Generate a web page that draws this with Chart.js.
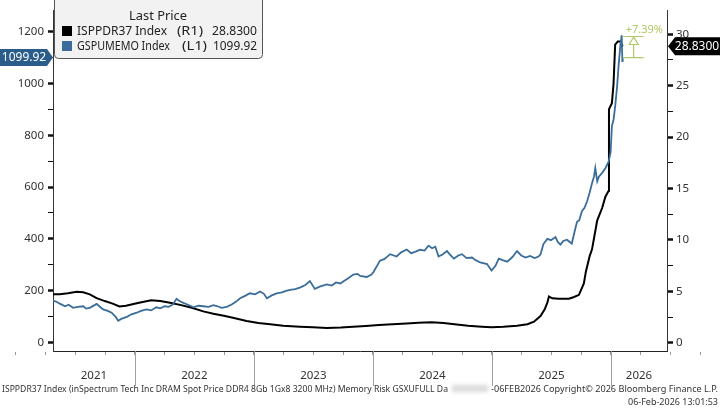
<!DOCTYPE html>
<html>
<head>
<meta charset="utf-8">
<script src="https://cdn.jsdelivr.net/npm/chart.js@4.4.1/dist/chart.umd.min.js"></script>
<style>
  html, body { margin: 0; padding: 0; background: #fff; }
</style>
</head>
<body>
<canvas id="graph" width="720" height="409"></canvas>
<script>
// GSPUMEMO Index (left axis)
var memoDates = [
  "2021-04-24","2021-05-05","2021-05-16","2021-06-01","2021-06-12","2021-06-26","2021-07-10","2021-07-27",
  "2021-08-05","2021-08-16","2021-09-06","2021-09-16","2021-09-26","2021-10-10","2021-10-22","2021-11-04",
  "2021-11-11","2021-11-22","2021-12-08","2021-12-20","2022-01-07","2022-01-20","2022-02-06","2022-02-20",
  "2022-03-08","2022-03-20","2022-04-03","2022-04-15","2022-04-28","2022-05-09","2022-05-18","2022-05-30",
  "2022-06-15","2022-06-30","2022-07-15","2022-07-30","2022-08-15","2022-08-30","2022-09-12","2022-09-24",
  "2022-10-10","2022-10-25","2022-11-08","2022-11-20","2022-12-05","2022-12-20","2023-01-05","2023-01-20",
  "2023-02-01","2023-02-10","2023-02-25","2023-03-12","2023-03-28","2023-04-10","2023-04-22","2023-05-08",
  "2023-05-22","2023-06-08","2023-06-22","2023-07-07","2023-07-22","2023-08-13","2023-08-28","2023-09-10",
  "2023-09-23","2023-10-08","2023-10-20","2023-11-02","2023-11-15","2023-11-23","2023-12-13","2023-12-28",
  "2024-01-03","2024-01-23","2024-02-05","2024-02-23","2024-03-14","2024-03-28","2024-04-14","2024-04-28",
  "2024-05-10","2024-05-25","2024-06-08","2024-06-20","2024-07-01","2024-07-11","2024-07-21","2024-08-02",
  "2024-08-16","2024-08-26","2024-09-06","2024-09-20","2024-10-01","2024-10-15","2024-11-01","2024-11-12",
  "2024-11-26","2024-12-17","2024-12-31","2025-01-12","2025-01-22","2025-02-03","2025-02-17","2025-03-05",
  "2025-03-19","2025-04-01","2025-04-14","2025-04-28","2025-05-12","2025-05-24","2025-05-30","2025-06-08",
  "2025-06-20","2025-07-01","2025-07-15","2025-07-22","2025-07-30","2025-08-08","2025-08-19","2025-09-03",
  "2025-09-10","2025-09-19","2025-09-26","2025-10-04","2025-10-12","2025-10-20","2025-10-28","2025-11-04",
  "2025-11-10","2025-11-14","2025-11-20","2025-11-25","2025-12-05","2025-12-15","2025-12-25","2025-12-31",
  "2026-01-04","2026-01-09","2026-01-14","2026-01-20","2026-01-24","2026-01-30","2026-02-03","2026-02-05",
  "2026-02-06"
];
var memoValues = [
  162,158,150,140,146,134,138,140,
  131,134,149,138,128,122,115,98,
  84,92,99,108,115,122,128,124,
  136,132,140,138,147,169,160,153,
  145,136,142,140,138,144,140,134,
  138,147,158,171,180,190,186,197,
  188,171,182,190,194,199,203,206,
  212,222,237,207,216,224,220,232,
  228,240,250,262,265,257,253,262,
  272,316,322,341,332,348,359,345,
  350,358,355,374,364,370,332,340,
  353,338,324,336,341,326,328,318,
  309,303,278,296,324,318,312,330,
  353,336,328,334,326,332,340,380,
  400,395,407,388,378,392,397,382,
  420,466,472,507,520,545,580,615,
  640,673,622,640,655,673,698,735,
  836,860,911,990,1061,1149,1186,1086,
  1099.92
];

// ISPPDR37 Index, DRAM spot price (right axis)
var dramDates = [
  "2021-04-24","2021-05-16","2021-06-10","2021-07-07","2021-07-27","2021-08-16","2021-09-06","2021-10-01",
  "2021-10-25","2021-11-15","2021-12-05","2021-12-28","2022-01-25","2022-02-20","2022-03-20","2022-04-15",
  "2022-05-20","2022-06-25","2022-07-30","2022-08-30","2022-10-01","2022-11-01","2022-12-10","2023-01-15",
  "2023-02-20","2023-04-01","2023-05-22","2023-07-01","2023-08-13","2023-09-25","2023-11-01","2023-12-10",
  "2024-01-20","2024-03-01","2024-04-14","2024-05-20","2024-06-30","2024-08-05","2024-09-15","2024-10-20",
  "2024-12-01","2024-12-31","2025-02-05","2025-03-19","2025-04-20","2025-05-10","2025-05-30","2025-06-12",
  "2025-06-20","2025-06-25","2025-07-05","2025-07-25","2025-08-25","2025-09-10","2025-09-25","2025-10-10",
  "2025-10-16","2025-10-28","2025-11-04","2025-11-12","2025-11-20","2025-12-05","2025-12-15","2025-12-25",
  "2025-12-26","2026-01-04","2026-01-09","2026-01-14","2026-01-22","2026-01-30","2026-02-06"
];
var dramValues = [
  4.72,4.72,4.80,4.95,4.91,4.70,4.34,4.05,
  3.80,3.52,3.60,3.77,3.95,4.12,4.05,3.92,
  3.68,3.40,3.05,2.82,2.62,2.40,2.12,1.92,
  1.80,1.66,1.56,1.50,1.44,1.48,1.55,1.62,
  1.72,1.80,1.88,1.94,1.98,1.92,1.78,1.66,
  1.56,1.50,1.56,1.66,1.80,2.05,2.60,3.24,
  3.90,4.50,4.32,4.28,4.28,4.45,4.66,5.76,
  6.87,8.45,9.08,10.5,11.9,13.1,14.2,14.77,
  22.7,23.3,25.2,29.0,29.3,29.3,28.83
];

var years = [2021, 2022, 2023, 2024, 2025, 2026];
var leftTicks = [0,100,200,300,400,500,600,700,800,900,1000,1100,1200];
var rightTicks = [0,2.5,5,7.5,10,12.5,15,17.5,20,22.5,25,27.5,30];
var changePct = 7.39;

var footerLeft = "ISPPDR37 Index (inSpectrum Tech Inc DRAM Spot Price DDR4 8Gb 1Gx8 3200 MHz) Memory Risk GSXUFULL Da";
var footerRight = "-06FEB2026 Copyright\u00A9 2026 Bloomberg Finance L.P.";
var footerStamp = "06-Feb-2026 13:01:53";

function toYear(s) {
  var p = s.split("-").map(Number);
  var start = Date.UTC(p[0], 0, 1), end = Date.UTC(p[0] + 1, 0, 1);
  return p[0] + (Date.UTC(p[0], p[1] - 1, p[2]) - start) / (end - start);
}

var quarterTicks = [];
years.forEach(function (y) {
  [0, 0.25, 0.5, 0.75].forEach(function (q) { quarterTicks.push(y + q); });
});

var FONT = "'Noto Sans', 'DejaVu Sans', sans-serif";
var BLUE = "#3a6d99";

// draw text squeezed or stretched to a given width
function drawFit(ctx, text, x, y, width, size) {
  ctx.font = size + "px " + FONT;
  var w = ctx.measureText(text).width;
  ctx.save();
  ctx.translate(x, y);
  ctx.scale(width / w, 1);
  ctx.textAlign = "left";
  ctx.fillText(text, 0, 0);
  ctx.restore();
}

var bloombergPlugin = {
  id: "bloomberg",
  afterDraw: function (chart) {
    var ctx = chart.ctx, xs = chart.scales.x, yl = chart.scales.y, yr = chart.scales.y1;
    var area = chart.chartArea;
    ctx.save();

    // year separators and labels
    ctx.strokeStyle = "#a0a0a0";
    ctx.lineWidth = 1;
    ctx.fillStyle = "#333";
    ctx.font = "11.5px " + FONT;
    ctx.textAlign = "center";
    ctx.textBaseline = "middle";
    years.forEach(function (y) {
      var px = xs.getPixelForValue(y);
      if (px > area.left && px < area.right) {
        ctx.beginPath();
        ctx.moveTo(Math.round(px) + 0.5, area.bottom);
        ctx.lineTo(Math.round(px) + 0.5, 386);
        ctx.stroke();
      }
      var a = Math.max(y, xs.min), b = Math.min(y + 1, xs.max);
      if (b > a) {
        var cx = (xs.getPixelForValue(a) + xs.getPixelForValue(b)) / 2;
        ctx.fillText(String(y), cx, 376);
      }
    });

    // footer
    ctx.textBaseline = "alphabetic";
    ctx.fillStyle = "#333";
    drawFit(ctx, footerLeft, 2, 392, 446, 9);
    drawFit(ctx, footerRight, 491, 392, 227, 9);
    ctx.save();
    ctx.filter = "blur(2px)";
    ctx.fillStyle = "rgba(150,150,150,0.35)";
    ctx.fillRect(452, 385, 36, 7);
    ctx.restore();
    ctx.fillStyle = "#333";
    ctx.font = "9px " + FONT;
    ctx.textAlign = "right";
    ctx.fillText(footerStamp, 718, 405);

    // last value badges
    var lastMemo = memoValues[memoValues.length - 1];
    var lastDram = dramValues[dramValues.length - 1];
    var by = yl.getPixelForValue(lastMemo);
    ctx.fillStyle = "#2b5d8c";
    ctx.beginPath();
    ctx.moveTo(0, by - 8.5);
    ctx.lineTo(47, by - 8.5);
    ctx.lineTo(53, by);
    ctx.lineTo(47, by + 8.5);
    ctx.lineTo(0, by + 8.5);
    ctx.closePath();
    ctx.fill();
    ctx.fillStyle = "#fff";
    ctx.font = "12px " + FONT;
    ctx.textAlign = "center";
    ctx.textBaseline = "middle";
    ctx.fillText(lastMemo.toFixed(2), 24, by + 0.5);

    var ry = yr.getPixelForValue(lastDram);
    ctx.fillStyle = "#000";
    ctx.beginPath();
    ctx.moveTo(668, ry);
    ctx.lineTo(675, ry - 9);
    ctx.lineTo(720, ry - 9);
    ctx.lineTo(720, ry + 9);
    ctx.lineTo(675, ry + 9);
    ctx.closePath();
    ctx.fill();
    ctx.fillStyle = "#fff";
    ctx.fillText(lastDram.toFixed(4), 697, ry + 0.5);

    // +7.39% measurement
    var endX = xs.getPixelForValue(toYear(memoDates[memoDates.length - 1]));
    var yBase = yl.getPixelForValue(lastMemo);
    var yTop = yl.getPixelForValue(lastMemo * (1 + changePct / 100));
    var ax = endX + 11;
    ctx.strokeStyle = "#b2c86a";
    ctx.fillStyle = "#b2c86a";
    ctx.lineWidth = 1.2;
    ctx.beginPath();
    ctx.moveTo(endX, yTop); ctx.lineTo(endX + 21, yTop);
    ctx.moveTo(endX, yBase); ctx.lineTo(endX + 21, yBase);
    ctx.moveTo(ax, yTop + 8); ctx.lineTo(ax, yBase);
    ctx.stroke();
    ctx.beginPath();
    ctx.moveTo(ax, yTop + 0.5);
    ctx.lineTo(ax - 4.5, yTop + 8);
    ctx.lineTo(ax + 4.5, yTop + 8);
    ctx.closePath();
    ctx.stroke();
    ctx.font = "11px " + FONT;
    ctx.textAlign = "left";
    ctx.fillText("+" + changePct.toFixed(2) + "%", endX + 3, yTop - 7);

    // legend box
    ctx.fillStyle = "#f2f2f2";
    ctx.strokeStyle = "#555";
    ctx.lineWidth = 1;
    ctx.beginPath();
    ctx.roundRect(54.5, -4.5, 208, 63, 4);
    ctx.fill();
    ctx.stroke();
    ctx.fillStyle = "#222";
    ctx.textBaseline = "middle";
    drawFit(ctx, "Last Price", 129, 16, 58, 12.5);
    ctx.fillStyle = "#000";
    ctx.fillRect(62, 26, 10, 10);
    ctx.fillStyle = BLUE;
    ctx.fillRect(62, 41, 10, 10);
    ctx.fillStyle = "#222";
    drawFit(ctx, "ISPPDR37 Index", 77, 31.5, 90, 12.5);
    drawFit(ctx, "(R1)", 177, 31.5, 26, 12.5);
    drawFit(ctx, lastDram.toFixed(4), 212, 31.5, 45, 12.5);
    drawFit(ctx, "GSPUMEMO Index", 77, 46.5, 93, 12.5);
    drawFit(ctx, "(L1)", 182, 46.5, 25, 12.5);
    drawFit(ctx, lastMemo.toFixed(2), 213, 46.5, 44, 12.5);

    ctx.restore();
  }
};

var data = {
  datasets: [{
    label: "GSPUMEMO Index",
    data: memoDates.map(function (d, i) { return { x: toYear(d), y: memoValues[i] }; }),
    borderColor: BLUE,
    borderWidth: 1.8,
    pointRadius: 0,
    yAxisID: "y"
  }, {
    label: "ISPPDR37 Index",
    data: dramDates.map(function (d, i) { return { x: toYear(d), y: dramValues[i] }; }),
    borderColor: "#000",
    borderWidth: 2,
    pointRadius: 0,
    yAxisID: "y1"
  }]
};

var config = {
  type: "line",
  data: data,
  options: {
    responsive: false,
    animation: false,
    layout: { padding: { top: 2, left: 0, right: 0, bottom: 0 } },
    plugins: { legend: { display: false }, tooltip: { enabled: false } },
    scales: {
      x: {
        type: "linear",
        min: 2021.313,
        max: 2026.471,
        afterBuildTicks: function (s) { s.ticks = quarterTicks.map(function (v) { return { value: v }; }); },
        ticks: { display: false },
        grid: { drawOnChartArea: false, tickLength: 4, tickColor: "#999", tickWidth: 1 },
        border: { color: "#222", width: 1 },
        afterFit: function (s) { s.height = 58; }
      },
      y: {
        position: "left",
        min: -32.7,
        max: 1280,
        afterBuildTicks: function (s) { s.ticks = leftTicks.map(function (v) { return { value: v }; }); },
        ticks: {
          autoSkip: false,
          padding: 4,
          color: "#333",
          font: { family: FONT, size: 11.5 },
          callback: function (v) { return v % 200 === 0 ? String(v) : ""; }
        },
        grid: {
          drawOnChartArea: false,
          tickLength: 5,
          tickColor: "#111",
          tickWidth: function (c) { return c.tick && c.tick.value % 200 === 0 ? 2.5 : 1; }
        },
        border: { color: "#333", width: 1 },
        afterFit: function (s) { s.width = 53; }
      },
      y1: {
        position: "right",
        min: -0.806,
        max: 32.27,
        afterBuildTicks: function (s) { s.ticks = rightTicks.map(function (v) { return { value: v }; }); },
        ticks: {
          autoSkip: false,
          padding: 3,
          color: "#333",
          font: { family: FONT, size: 11.5 },
          callback: function (v) { return v % 5 === 0 ? String(v) : ""; }
        },
        grid: {
          drawOnChartArea: false,
          tickLength: 6,
          tickColor: "#111",
          tickWidth: function (c) { return c.tick && c.tick.value % 5 === 0 ? 2.5 : 1; }
        },
        border: { color: "#333", width: 1 },
        afterFit: function (s) { s.width = 53; }
      }
    }
  },
  plugins: [bloombergPlugin]
};

new Chart(document.getElementById("graph"), config);
</script>
</body>
</html>
